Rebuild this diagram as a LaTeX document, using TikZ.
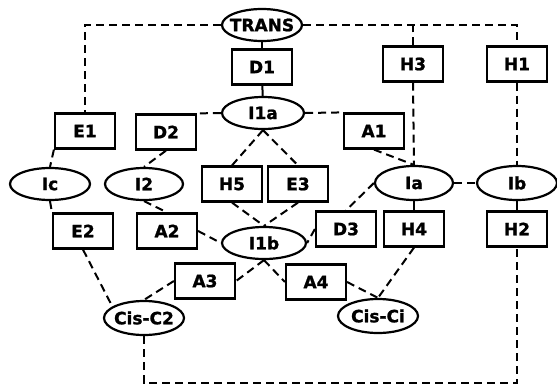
\documentclass[tikz,border=0pt]{standalone}
\usepackage{fontspec}
\setmainfont{DejaVu Sans}[BoldFeatures={FakeBold=1.2}]
\usetikzlibrary{shapes.geometric}
\tikzset{
  boxnode/.style={draw, line width=2.2pt, minimum width=60pt, minimum height=35pt, inner sep=0pt,
    font=\fontsize{17}{17}\selectfont\bfseries},
  ellnode/.style={draw, ellipse, line width=2.2pt, minimum width=80pt, minimum height=32pt, inner sep=0pt,
    font=\fontsize{17}{17}\selectfont\bfseries},
  dline/.style={line width=2pt, dash pattern=on 8pt off 5pt},
  sline/.style={line width=2pt}
}
\newcommand{\lbl}[1]{\makebox[0pt]{#1}}
\begin{document}
\begin{tikzpicture}[x=1pt,y=-1pt]
\useasboundingbox (0,0) rectangle (557,386);
% nodes
\node[ellnode] (TRANS) at (262,25) {\lbl{TRANS}};
\node[boxnode] (D1) at (262,67) {D1};
\node[ellnode, minimum width=82pt] (I1a) at (263,113) {\lbl{I1a}};
\node[boxnode] (E1) at (85,131) {E1};
\node[boxnode] (D2) at (166,132) {D2};
\node[boxnode] (A1) at (374,131) {A1};
\node[boxnode] (H3) at (413,64) {H3};
\node[boxnode] (H1) at (517,64) {H1};
\node[ellnode] (Ic) at (50,184) {\lbl{Ic}};
\node[ellnode, minimum width=78pt] (I2) at (144,184) {\lbl{I2}};
\node[boxnode] (H5) at (232,184) {H5};
\node[boxnode] (E3) at (298,184) {E3};
\node[ellnode, minimum width=78pt, minimum height=34pt] (Ia) at (414,183) {\lbl{Ia}};
\node[ellnode, minimum height=34pt] (Ib) at (517,183) {\lbl{Ib}};
\node[boxnode] (E2) at (83,231) {E2};
\node[boxnode] (A2) at (167,231) {A2};
\node[ellnode, minimum width=84pt] (I1b) at (264,243) {\lbl{I1b}};
\node[boxnode] (D3) at (346,229) {D3};
\node[boxnode] (H4) at (414,229) {H4};
\node[boxnode] (H2) at (517,229) {H2};
\node[boxnode] (A3) at (205,281) {A3};
\node[boxnode] (A4) at (316,282) {A4};
\node[ellnode, minimum height=34pt] (cc2) at (144,318) {\lbl{Cis-C2}};
\node[ellnode, minimum height=34pt] (cci) at (378,316) {\lbl{Cis-Ci}};
\coordinate (bl) at (144,383);
% connectors
\draw[dline] (TRANS.west) -| (E1.north);
\draw[dline] (TRANS.east) -| (H1.north);
\draw[dline] (H3.north) -- (H3.north |- TRANS.east);
\draw[sline] (TRANS) -- (D1);
\draw[sline] (D1) -- (I1a);
\draw[dline] (I1a.west) -- (D2.north east);
\draw[dline] (I1a.east) -- (A1.north west);
\draw[dline] (I1a.south) -- (H5.north);
\draw[dline] (I1a.south) -- (E3.north);
\draw[dline] (E1.south west) -- (Ic.north);
\draw[dline] (Ic.south) -- (E2.north west);
\draw[dline] (D2.south) -- (I2.north);
\draw[dline] (I2.south) -- (A2.north);
\draw[dline] (A2.east) -- (I1b.west);
\draw[dline] (H5.south) -- (I1b.north);
\draw[dline] (E3.south) -- (I1b.north);
\draw[dline] (A1.south) -- (Ia.north);
\draw[dline] (H3.south) -- (Ia.north);
\draw[dline] (H1.south) -- (Ib.north);
\draw[dline] (Ia.east) -- (Ib.west);
\draw[sline] (Ia.south) -- (H4.north);
\draw[sline] (Ib.south) -- (H2.north);
\draw[dline] (Ia.west) -- (D3.north);
\draw[dline] (D3.west) -- (I1b.east);
\draw[dline] (I1b.south) -- (A3.east);
\draw[dline] (A3.west) -- (cc2.north);
\draw[dline] (E2.south) -- (cc2.160);
\draw[dline] (I1b.south) -- (A4.west);
\draw[dline] (A4.east) -- (cci.north);
\draw[dline] (H4.south) -- (cci.north);
\draw[dline] (cc2.south) -- (bl) -| (H2.south);
\end{tikzpicture}
\end{document}
